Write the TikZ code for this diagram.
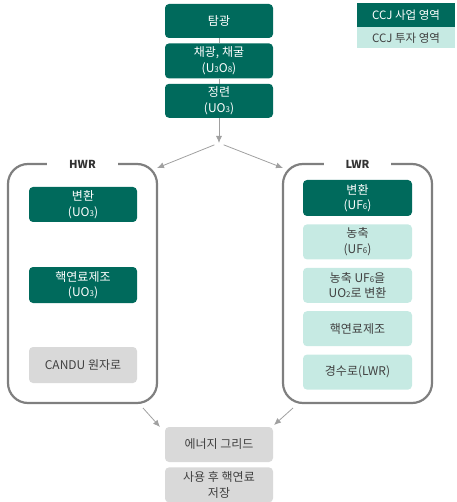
\documentclass[tikz,border=0pt]{standalone}
\usepackage{fontspec}
\setmainfont{Noto Sans CJK KR}
\usetikzlibrary{positioning,arrows.meta}

\definecolor{ccjdark}{HTML}{006A5C}
\definecolor{ccjlight}{HTML}{C6EAE3}
\definecolor{boxgray}{HTML}{D9D9D9}
\definecolor{framegray}{HTML}{7F7F7F}
\definecolor{arrowgray}{HTML}{A0A0A0}
\definecolor{textgray}{HTML}{404040}

% small digits in formulas like U3O8
\newcommand\lowdig[1]{{\fontsize{8}{8}\selectfont #1}}

\begin{document}
\begin{tikzpicture}[x=1pt,y=-1pt,node distance=5pt,
      box/.style={rectangle,rounded corners=4pt,minimum width=108pt,minimum height=35pt,
        inner sep=2pt,align=center,font=\fontsize{12}{15.5}\selectfont},
      biz node/.style={box,fill=ccjdark,text=white},
      invest node/.style={box,fill=ccjlight,text=textgray},
      plain node/.style={box,fill=boxgray,text=textgray},
      legend node/.style={rectangle,minimum width=98pt,inner sep=1pt,font=\fontsize{11.5}{12}\selectfont},
      frame/.style={draw=framegray,line width=2.2pt,rounded corners=20pt,outer sep=0pt,
        minimum width=149pt,minimum height=239pt},
      frame label/.style={fill=white,inner xsep=22pt,inner ysep=2pt,text=textgray!80!black,
        font=\bfseries\fontsize{11}{12}\selectfont},
      flow/.style={draw=arrowgray,line width=0.8pt,-{Latex[length=7pt,width=6pt]}}]

      \useasboundingbox (0,0) rectangle (456,502);

      % legend
      \node[legend node,fill=ccjdark,text=white,minimum height=24pt] (legend biz) at (406,15) {CCJ 사업 영역};
      \node[legend node,fill=ccjlight,text=textgray,minimum height=21pt,below=0pt of legend biz] (legend inv) {CCJ 투자 영역};

      % upstream chain
      \node[biz node,minimum height=34pt] (tamgwang) at (219,21) {탐광};
      \node[biz node,below=of tamgwang] (chaegwang) {채광, 채굴\\(U\lowdig{3}O\lowdig{8})};
      \node[biz node,minimum height=34pt,below=of chaegwang] (jeongryeon) {정련\\(UO\lowdig{3})};
      \coordinate (fork) at (219,143);

      % HWR branch
      \node[frame] (hwr) at (82.5,283.5) {};
      \node[frame label] at (hwr.north) {HWR};
      \node[biz node] (hwr conv) at (83,204.5) {변환\\(UO\lowdig{3})};
      \node[biz node,minimum height=36pt] (hwr fuel) at (83,285) {핵연료제조\\(UO\lowdig{3})};
      \node[plain node,minimum height=36pt] (candu) at (83,365) {CANDU 원자로};

      % LWR branch
      \node[frame] (lwr) at (357.5,283.5) {};
      \node[frame label] at (lwr.north) {LWR};
      \node[biz node,minimum width=109pt,minimum height=36pt] (lwr conv) at (357.5,198) {변환\\(UF\lowdig{6})};
      \node[invest node,minimum width=109pt,below=8pt of lwr conv] (enrich) {농축\\(UF\lowdig{6})};
      \node[invest node,minimum width=109pt,below=8pt of enrich] (deconv) {농축 UF\lowdig{6}을\\UO\lowdig{2}로 변환};
      \node[invest node,minimum width=109pt,below=8pt of deconv] (lwr fuel) {핵연료제조};
      \node[invest node,minimum width=109pt,below=8pt of lwr fuel] (lwr reactor) {경수로(LWR)};

      % downstream
      \node[plain node] (grid) at (219,444.5) {에너지 그리드};
      \node[plain node,below=of grid] (storage) {사용 후 핵연료\\저장};

      \coordinate (hwr in) at (157,168);
      \coordinate (lwr in) at (283,168);
      \coordinate (hwr out) at (143,408);
      \coordinate (lwr out) at (293,408);
      \coordinate (grid in l) at (160,427);
      \coordinate (grid in r) at (274,425);

      \draw[draw=arrowgray,line width=0.8pt] (tamgwang) -- (chaegwang);
      \draw[draw=arrowgray,line width=0.8pt] (chaegwang) -- (jeongryeon);
      \draw[flow] (jeongryeon) -- (fork);
      \draw[flow,shorten <=5pt] (fork) -- (hwr in);
      \draw[flow,shorten <=5pt] (fork) -- (lwr in);
      \draw[flow] (hwr out) -- (grid in l);
      \draw[flow] (lwr out) -- (grid in r);
\end{tikzpicture}
\end{document}
